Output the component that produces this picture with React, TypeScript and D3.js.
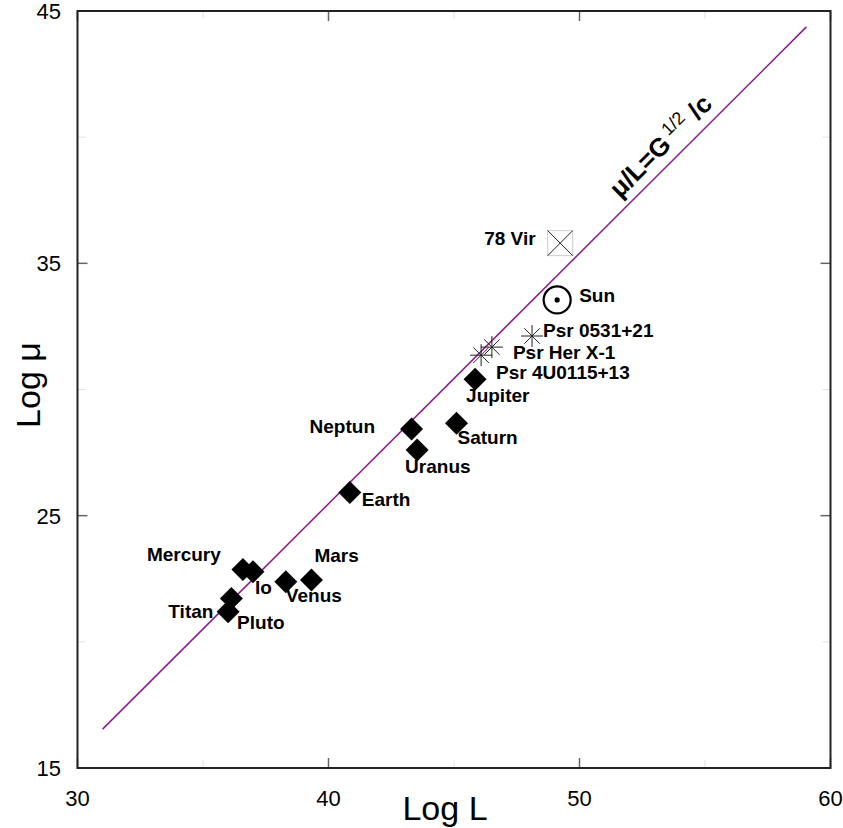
import React from "react";
import * as d3 from "d3";

const planetNames = ["Mercury", "Io", "Titan", "Pluto", "Venus", "Mars", "Earth", "Neptun", "Uranus", "Saturn", "Jupiter"];
const planetL = [36.59, 36.99, 36.13, 36.0, 38.3, 39.32, 40.85, 43.31, 43.53, 45.1, 45.84];
const planetMu = [22.87, 22.78, 21.72, 21.19, 22.38, 22.45, 25.92, 28.43, 27.6, 28.66, 30.41];

const pulsarNames = ["Psr 0531+21", "Psr Her X-1", "Psr 4U0115+13"];
const pulsarL = [48.11, 46.51, 46.08];
const pulsarMu = [32.12, 31.68, 31.36];

const sunL = 49.11;
const sunMu = 33.55;
const virL = 49.23;
const virMu = 35.8;

const lineL = [31.0, 59.04];
const lineMu = [16.54, 44.37];

const xTicks = [30, 40, 50, 60];
const yTicks = [15, 25, 35, 45];
const xMinor = [35, 45, 55];
const yMinor = [20, 30, 40];

// label offsets (px) relative to marker, per name
const labelPos: Record<string, [number, number]> = {
  Mercury: [-96, -8],
  Io: [2, 22],
  Titan: [-63, 20],
  Pluto: [9, 17],
  Venus: [0, 20],
  Mars: [3, -18],
  Earth: [12, 14],
  Neptun: [-102, 4],
  Uranus: [-12, 23],
  Saturn: [1, 21],
  Jupiter: [-9, 23],
  "Psr 0531+21": [11, 1],
  "Psr Her X-1": [21, 12],
  "Psr 4U0115+13": [15, 24],
};

export default function App() {
  const W = 843, H = 828;
  const x = d3.scaleLinear().domain([30, 60]).range([77.5, 830.5]);
  const y = d3.scaleLinear().domain([15, 45]).range([768, 11]);
  const font = "'Liberation Sans', Arial, sans-serif";
  const line = d3.line<[number, number]>().x(d => x(d[0])).y(d => y(d[1]));
  const linePts: [number, number][] = lineL.map((l, i) => [l, lineMu[i]]);
  const dh = 11.5;
  const diamond = `M0,${-dh}L${dh},0L0,${dh}L${-dh},0Z`;
  const sr = 11;
  const star = d3.range(4).map(i => {
    const a = (i * Math.PI) / 4;
    return `M${-sr * Math.cos(a)},${-sr * Math.sin(a)}L${sr * Math.cos(a)},${sr * Math.sin(a)}`;
  }).join("");
  const [x0, x1] = x.range();
  const [y0, y1] = y.range();
  const ang = (Math.atan2(y(lineMu[1]) - y(lineMu[0]), x(lineL[1]) - x(lineL[0])) * 180) / Math.PI;

  return (
    <svg width={W} height={H} style={{ position: "absolute", left: 0, top: 0, background: "#fff" }} fontFamily={font}>
      {xMinor.map(t => (
        <g key={"xm" + t} stroke="#e0e0e0" strokeWidth={1}>
          <line x1={x(t)} x2={x(t)} y1={y0} y2={y0 - 8} />
          <line x1={x(t)} x2={x(t)} y1={y1} y2={y1 + 8} />
        </g>
      ))}
      {yMinor.map(t => (
        <g key={"ym" + t} stroke="#e0e0e0" strokeWidth={1}>
          <line x1={x0} x2={x0 + 8} y1={y(t)} y2={y(t)} />
          <line x1={x1} x2={x1 - 8} y1={y(t)} y2={y(t)} />
        </g>
      ))}
      {xTicks.map(t => (
        <g key={"xt" + t} stroke="#666" strokeWidth={1.5}>
          <line x1={x(t)} x2={x(t)} y1={y0} y2={y0 - 10} />
          <line x1={x(t)} x2={x(t)} y1={y1} y2={y1 + 10} />
        </g>
      ))}
      {yTicks.map(t => (
        <g key={"yt" + t} stroke="#666" strokeWidth={1.5}>
          <line x1={x0} x2={x0 + 10} y1={y(t)} y2={y(t)} />
          <line x1={x1} x2={x1 - 10} y1={y(t)} y2={y(t)} />
        </g>
      ))}
      <rect x={x0} y={y1} width={x1 - x0} height={y0 - y1} fill="none" stroke="#222" strokeWidth={2} />
      {xTicks.map(t => (
        <text key={"xl" + t} x={x(t)} y={806} textAnchor="middle" fontSize={22}>{t}</text>
      ))}
      {yTicks.map(t => (
        <text key={"yl" + t} x={61} y={y(t) + 8} textAnchor="end" fontSize={22}>{t}</text>
      ))}
      <text x={445} y={820} textAnchor="middle" fontSize={34}>Log L</text>
      <text transform={`translate(40,385) rotate(-90)`} textAnchor="middle" fontSize={34}>Log μ</text>

      <path d={line(linePts) || ""} fill="none" stroke="#8b1a8b" strokeWidth={1.5} />
      <text transform={`translate(620,199) rotate(${ang})`} fontSize={26} fontWeight="bold">
        <tspan>μ/L=G</tspan>
        <tspan fontSize={18} fontWeight="normal" dy={-10} dx={4}>1/2</tspan>
        <tspan dy={10}> /c</tspan>
      </text>

      {planetNames.map((n, i) => (
        <path key={n} d={diamond} transform={`translate(${x(planetL[i])},${y(planetMu[i])})`} fill="#000" />
      ))}
      {pulsarNames.map((n, i) => (
        <path key={n} d={star} transform={`translate(${x(pulsarL[i])},${y(pulsarMu[i])})`} stroke="#222" strokeWidth={1} fill="none" />
      ))}
      <g transform={`translate(${x(sunL)},${y(sunMu)})`}>
        <circle r={13.5} fill="none" stroke="#000" strokeWidth={2.2} />
        <circle r={2.6} fill="#000" />
      </g>
      <g transform={`translate(${x(virL)},${y(virMu)})`}>
        <rect x={-12.5} y={-12.5} width={25} height={25} fill="none" stroke="#ccc" strokeWidth={1} />
        <path d="M-12.5,-12.5L12.5,12.5M12.5,-12.5L-12.5,12.5" stroke="#222" strokeWidth={1} />
      </g>

      <g fontSize={19} fontWeight="bold" fill="#000">
        {planetNames.map((n, i) => (
          <text key={"l" + n} x={x(planetL[i]) + labelPos[n][0]} y={y(planetMu[i]) + labelPos[n][1]}>{n}</text>
        ))}
        {pulsarNames.map((n, i) => (
          <text key={"l" + n} x={x(pulsarL[i]) + labelPos[n][0]} y={y(pulsarMu[i]) + labelPos[n][1]}>{n}</text>
        ))}
        <text x={x(sunL) + 22} y={y(sunMu) + 2}>Sun</text>
        <text x={x(virL) - 76} y={y(virMu) + 2}>78 Vir</text>
      </g>
    </svg>
  );
}
